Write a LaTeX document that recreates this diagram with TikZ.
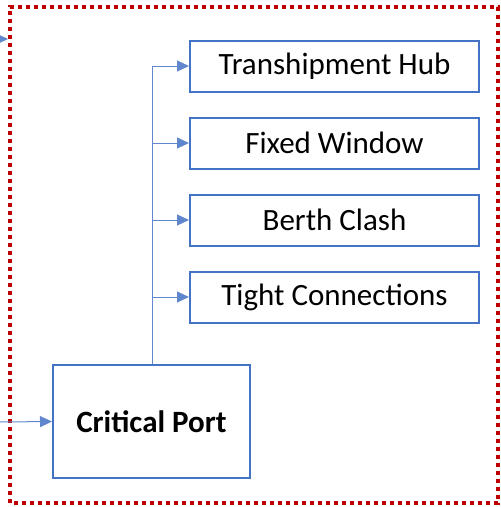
\documentclass[tikz,border=0pt]{standalone}
\usepackage{fontspec}
\setmainfont{Carlito}
\usetikzlibrary{arrows.meta}
\definecolor{boxblue}{HTML}{4472C4}
\definecolor{dotred}{HTML}{C00000}
\begin{document}
\begin{tikzpicture}[x=1pt,y=-1pt,
  catbox/.style={draw=boxblue,line width=2pt,minimum width=289pt,minimum height=51pt,font=\fontsize{31}{36}\selectfont,inner sep=0pt},
  mainbox/.style={draw=boxblue,line width=2pt,minimum width=197pt,minimum height=113pt,font=\bfseries\fontsize{31}{36}\selectfont,inner sep=0pt},
  conn/.style={draw=boxblue!85,line width=1pt,-{Triangle[length=12pt,width=11pt]}},
  frame/.style={draw=dotred,line width=3.5pt,dash pattern=on 4pt off 4pt}]
\useasboundingbox (0,0) rectangle (501,507);
\draw[frame] (10,503) -- (10,7) -- (498,7) -- (498,503) -- cycle;
\node[catbox] (t1) at (334.5,66) {Transhipment Hub};
\node[catbox] (t2) at (334.5,143) {Fixed Window};
\node[catbox] (t3) at (334.5,220) {Berth Clash};
\node[catbox] (t4) at (334.5,297) {Tight Connections};
\node[mainbox] (cp) at (151.5,421.5) {Critical Port};
\coordinate (top) at (152,66);
\coordinate (in1) at (0,422);
\coordinate (in2) at (-6,39);
\coordinate (tip2) at (8,39);
\draw[draw=boxblue!85,line width=1pt] (cp.north -| top) -- (top);
\draw[conn] (top) -- (t1.west);
\draw[conn] (t2.west -| top) -- (t2.west);
\draw[conn] (t3.west -| top) -- (t3.west);
\draw[conn] (t4.west -| top) -- (t4.west);
\draw[conn] (in1) -- (cp.west);
\draw[conn] (in2) -- (tip2);
\end{tikzpicture}
\end{document}
